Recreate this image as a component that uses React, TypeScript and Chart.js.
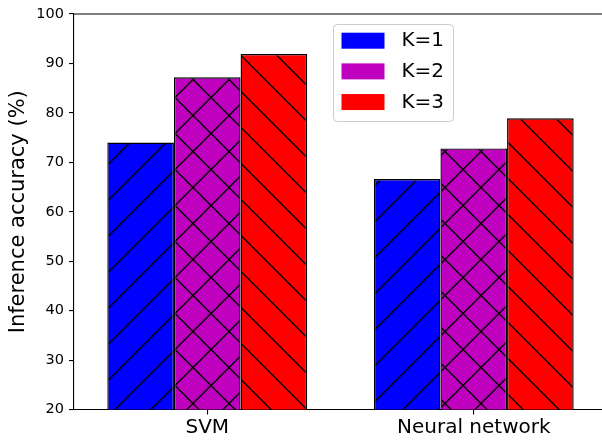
import React, { useEffect, useRef } from 'react';
import { Chart, registerables } from 'chart.js';

Chart.register(...registerables);

const categories = ['SVM', 'Neural network'];
const seriesLabels = ['K=1', 'K=2', 'K=3'];
const k1Values = [74, 66.6];
const k2Values = [87.2, 72.8];
const k3Values = [91.9, 78.9];
const seriesColors = ['#0000ff', '#bf00bf', '#ff0000'];
const seriesHatches = ['/', 'x', '\\'];
const yTickValues = [20, 30, 40, 50, 60, 70, 80, 90, 100];
const yTitle = 'Inference accuracy (%)';

const FONT = "'DejaVu Sans', sans-serif";

function makeHatch(color: string, hatch: string): CanvasPattern | string {
  const size = 36;
  const c = document.createElement('canvas');
  c.width = size;
  c.height = size;
  const ctx = c.getContext('2d');
  if (!ctx) return color;
  ctx.fillStyle = color;
  ctx.fillRect(0, 0, size, size);
  ctx.strokeStyle = '#000';
  ctx.lineWidth = 1.4;
  const p1 = 20.5;
  const p2 = 30.5;
  if (hatch === '/' || hatch === 'x') {
    for (let k = -2; k <= 2; k++) {
      const c0 = p1 + k * size;
      ctx.beginPath();
      ctx.moveTo(c0 + 10, -10);
      ctx.lineTo(c0 - size - 10, size + 10);
      ctx.stroke();
    }
  }
  if (hatch === '\\' || hatch === 'x') {
    for (let k = -2; k <= 2; k++) {
      const c0 = p2 + k * size;
      ctx.beginPath();
      ctx.moveTo(-10, c0 - 10);
      ctx.lineTo(size + 10, c0 + size + 10);
      ctx.stroke();
    }
  }
  return ctx.createPattern(c, 'repeat') || color;
}

const spinePlugin = {
  id: 'topSpine',
  afterDraw(chart: any) {
    const { ctx, chartArea } = chart;
    ctx.save();
    ctx.strokeStyle = '#000';
    ctx.lineWidth = 1.1;
    ctx.beginPath();
    ctx.moveTo(chartArea.left, chartArea.top);
    ctx.lineTo(chartArea.right, chartArea.top);
    ctx.stroke();
    ctx.restore();
  },
};

const legendPlugin = {
  id: 'boxLegend',
  afterDraw(chart: any) {
    const { ctx, chartArea } = chart;
    const x0 = chartArea.left + 259.5;
    const y0 = chartArea.top + 10.5;
    const w = 120;
    const h = 97;
    ctx.save();
    ctx.beginPath();
    if (ctx.roundRect) ctx.roundRect(x0, y0, w, h, 4);
    else ctx.rect(x0, y0, w, h);
    ctx.fillStyle = 'rgba(255,255,255,0.8)';
    ctx.fill();
    ctx.strokeStyle = '#cccccc';
    ctx.lineWidth = 1;
    ctx.stroke();
    ctx.font = `20px ${FONT}`;
    ctx.textBaseline = 'middle';
    ctx.textAlign = 'left';
    chart.data.datasets.forEach((ds: any, i: number) => {
      const py = y0 + 8.2 + i * 30.67;
      ctx.fillStyle = seriesColors[i];
      ctx.fillRect(x0 + 8, py, 43, 16);
      ctx.fillStyle = '#000';
      ctx.fillText(ds.label, x0 + 68, py + 8.5);
    });
    ctx.restore();
  },
};

export default function App() {
  const canvasRef = useRef<HTMLCanvasElement | null>(null);

  useEffect(() => {
    const canvas = canvasRef.current;
    if (!canvas) return;
    const valueSets = [k1Values, k2Values, k3Values];
    const chart = new Chart(canvas, {
      type: 'bar',
      data: {
        labels: categories,
        datasets: seriesLabels.map((label, i) => ({
          label,
          data: valueSets[i],
          backgroundColor: makeHatch(seriesColors[i], seriesHatches[i]) as any,
          borderColor: '#000',
          borderWidth: 1.4,
          borderSkipped: false,
          categoryPercentage: 0.75,
          barPercentage: 1.0,
        })),
      },
      options: {
        responsive: false,
        animation: false,
        devicePixelRatio: 1,
        layout: { padding: { top: 14, right: 0, left: 0, bottom: 0 } },
        plugins: {
          legend: { display: false },
          tooltip: { enabled: false },
        },
        scales: {
          x: {
            offset: true,
            grid: { display: true, offset: false, drawOnChartArea: false, drawTicks: true, tickLength: 5, color: '#000', lineWidth: 1.1 },
            border: { display: true, color: '#000', width: 1.1 },
            ticks: { color: '#000', font: { family: FONT, size: 20 }, padding: 1, maxRotation: 0, autoSkip: false },
            afterFit(scale: any) {
              scale.height = 30.5;
            },
          },
          y: {
            min: 20,
            max: 100,
            afterBuildTicks(scale: any) {
              scale.ticks = yTickValues.map((v) => ({ value: v }));
            },
            grid: { display: true, drawOnChartArea: false, drawTicks: true, tickLength: 5, color: '#000', lineWidth: 1.1 },
            border: { display: true, color: '#000', width: 1.1 },
            ticks: { color: '#000', font: { family: FONT, size: 14.5 }, padding: 5 },
            title: {
              display: true,
              text: yTitle,
              color: '#000',
              font: { family: FONT, size: 21 },
              padding: { top: 5.7, bottom: 0 },
            },
            afterFit(scale: any) {
              scale.width = 74;
            },
          },
        },
      },
      plugins: [spinePlugin, legendPlugin],
    });
    return () => chart.destroy();
  }, []);

  return (
    <div
      style={{
        position: 'fixed',
        left: 0,
        top: 0,
        width: 602,
        height: 440,
        overflow: 'hidden',
        background: '#fff',
      }}
    >
      <canvas ref={canvasRef} width={607} height={440} style={{ display: 'block', width: 607, height: 440 }} />
    </div>
  );
}
